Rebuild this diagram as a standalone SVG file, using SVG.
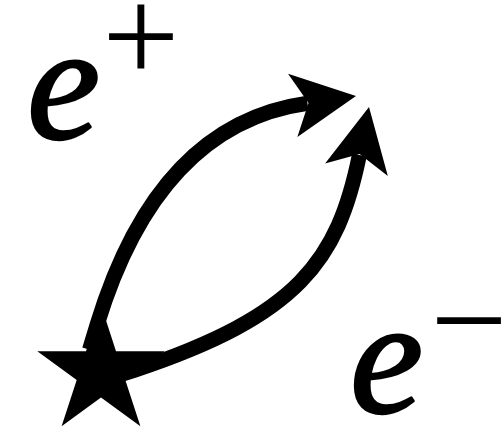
<svg xmlns="http://www.w3.org/2000/svg" width="503" height="434" viewBox="0 0 503 434">
  <style>
    .shaft { fill: none; stroke: #000; stroke-width: 15; stroke-linecap: butt; stroke-linejoin: round; }
    .head { fill: #000; }
    .lbl { font-family: "Liberation Serif", "Times New Roman", serif; font-style: italic; font-size: 165px; fill: #000; stroke: #000; stroke-width: 2.5; stroke-linejoin: round; }
    .sup { font-family: "Liberation Serif", "Times New Roman", serif; font-size: 137px; fill: #000; text-anchor: middle; }
  </style>
  <defs>
    <path id="ah" d="M0 0 L-64 -32 L-48 0 L-64 32 Z"/>
  </defs>
  <g id="connectors">
    <path class="shaft" d="M89.5 349.7 L97 325 Q158 124 307.5 103.2"/>
    <use href="#ah" class="head" transform="translate(356 96) rotate(-8.4)"/>
    <path class="shaft" d="M116 376 L135 370 C298 315.6 337.9 260.7 359.4 155.1"/>
    <use href="#ah" class="head" transform="translate(369 107) rotate(-78.7)"/>
  </g>
  <g id="source">
    <polygon fill="#000" points="101,305 116.0,351.3 164.7,351.3 125.3,379.9 140.4,426.2 101,397.6 61.6,426.2 76.7,379.9 37.3,351.3 86.0,351.3"/>
  </g>
  <g id="label-positron">
    <text class="lbl" x="27" y="138">e</text>
    <text class="sup" x="141" y="82">+</text>
  </g>
  <g id="label-electron">
    <text class="lbl" x="350" y="412">e</text>
    <text class="sup" x="469" y="366">−</text>
  </g>
</svg>
